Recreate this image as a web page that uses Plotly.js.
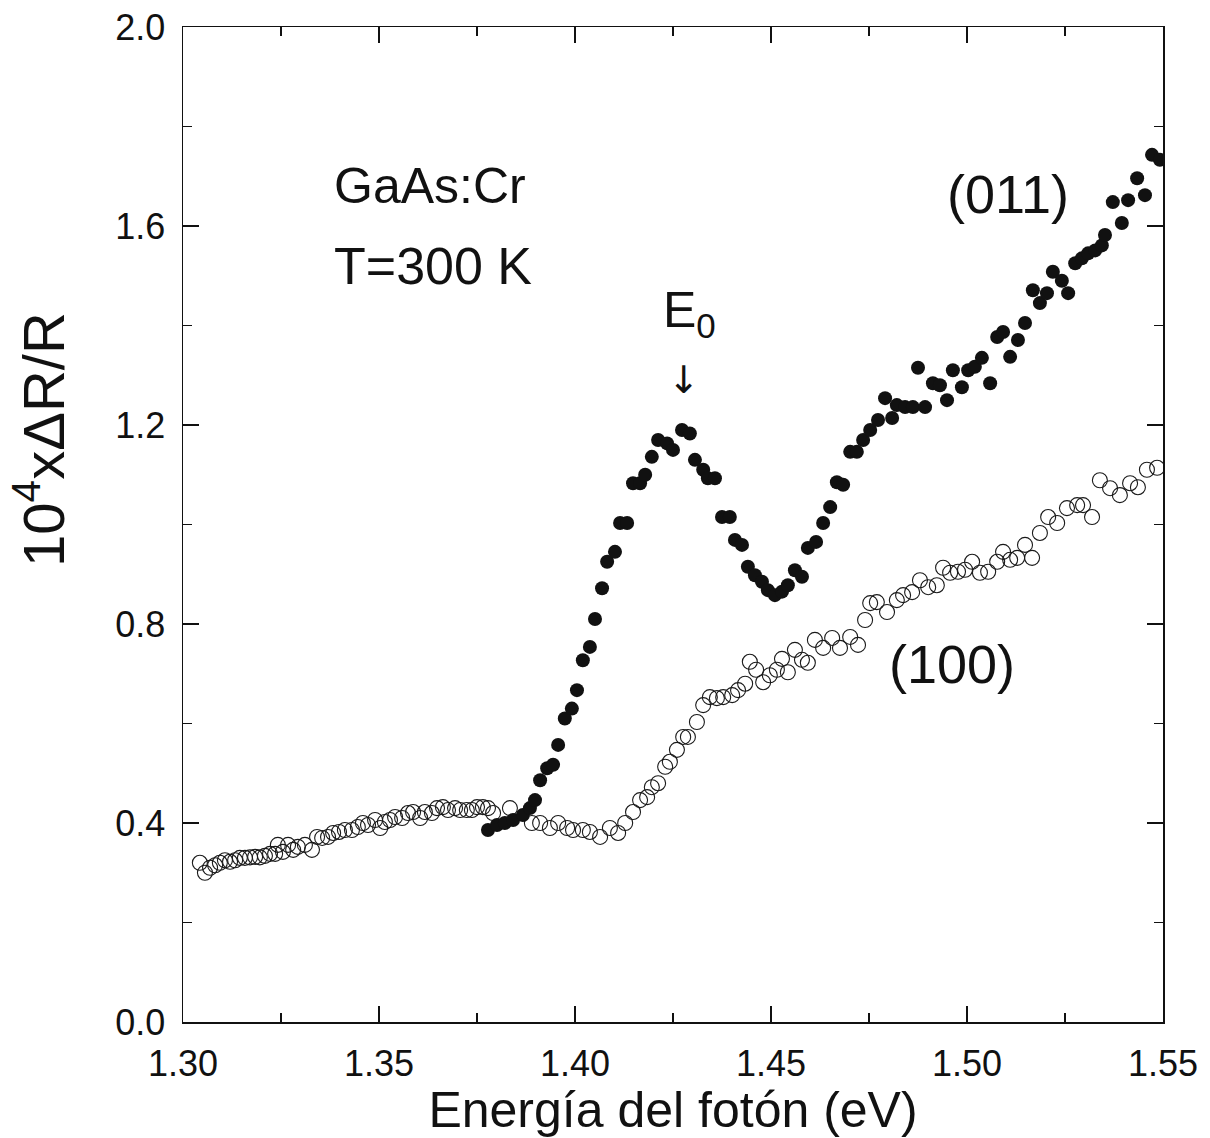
<!DOCTYPE html>
<html>
<head>
<meta charset="utf-8">
<script src="https://cdn.plot.ly/plotly-3.0.1.min.js"></script>
<style>
  html, body { margin: 0; padding: 0; background: #fff; }
  #chart { width: 1210px; height: 1138px; }
</style>
</head>
<body>
<div id="chart"></div>
<script>
// (100) orientation, open circles
const energy100 = [
  1.3043, 1.3056, 1.3069, 1.3082, 1.3094, 1.3107, 1.3120, 1.3133, 1.3145, 1.3158,
  1.3171, 1.3184, 1.3196, 1.3209, 1.3222, 1.3235, 1.3242, 1.3255, 1.3268, 1.3281,
  1.3293, 1.3311, 1.3329, 1.3342, 1.3355, 1.3370, 1.3383, 1.3398, 1.3413, 1.3431,
  1.3446, 1.3459, 1.3472, 1.3490, 1.3503, 1.3515, 1.3528, 1.3541, 1.3559, 1.3574,
  1.3587, 1.3605, 1.3617, 1.3635, 1.3648, 1.3663, 1.3676, 1.3694, 1.3707, 1.3724,
  1.3737, 1.3750, 1.3765, 1.3778, 1.3791, 1.3834, 1.3890, 1.3911, 1.3936, 1.3957,
  1.3980, 1.3995, 1.4020, 1.4038, 1.4064, 1.4089, 1.4110, 1.4128, 1.4148, 1.4166,
  1.4184, 1.4196, 1.4212, 1.4230, 1.4242, 1.4260, 1.4276, 1.4288, 1.4311, 1.4327,
  1.4344, 1.4362, 1.4378, 1.4401, 1.4416, 1.4434, 1.4446, 1.4462, 1.4480, 1.4497,
  1.4515, 1.4528, 1.4543, 1.4561, 1.4579, 1.4594, 1.4612, 1.4633, 1.4656, 1.4676,
  1.4702, 1.4722, 1.4740, 1.4753, 1.4770, 1.4796, 1.4821, 1.4837, 1.4860, 1.4880,
  1.4901, 1.4923, 1.4939, 1.4957, 1.4977, 1.4995, 1.5013, 1.5033, 1.5054, 1.5077,
  1.5092, 1.5110, 1.5128, 1.5148, 1.5166, 1.5186, 1.5207, 1.5230, 1.5255, 1.5281,
  1.5296, 1.5319, 1.5339, 1.5365, 1.5390, 1.5416, 1.5436, 1.5459, 1.5485
];
const dr100 = [
  0.320, 0.300, 0.310, 0.315, 0.320, 0.325, 0.322, 0.325, 0.330, 0.330,
  0.331, 0.332, 0.331, 0.334, 0.338, 0.338, 0.356, 0.342, 0.356, 0.346,
  0.352, 0.356, 0.346, 0.372, 0.370, 0.372, 0.380, 0.382, 0.386, 0.386,
  0.392, 0.400, 0.396, 0.406, 0.390, 0.402, 0.406, 0.412, 0.410, 0.420,
  0.422, 0.410, 0.422, 0.420, 0.430, 0.432, 0.426, 0.430, 0.426, 0.426,
  0.426, 0.432, 0.432, 0.430, 0.420, 0.430, 0.400, 0.400, 0.390, 0.400,
  0.390, 0.386, 0.386, 0.382, 0.372, 0.390, 0.380, 0.400, 0.422, 0.446,
  0.452, 0.472, 0.480, 0.513, 0.523, 0.547, 0.573, 0.573, 0.603, 0.637,
  0.653, 0.651, 0.653, 0.657, 0.667, 0.680, 0.724, 0.708, 0.683, 0.697,
  0.708, 0.730, 0.703, 0.748, 0.728, 0.722, 0.768, 0.752, 0.772, 0.752,
  0.774, 0.758, 0.808, 0.842, 0.844, 0.824, 0.848, 0.858, 0.864, 0.888,
  0.874, 0.878, 0.913, 0.903, 0.905, 0.909, 0.925, 0.903, 0.905, 0.925,
  0.945, 0.929, 0.933, 0.959, 0.933, 0.983, 1.015, 1.003, 1.033, 1.039,
  1.039, 1.015, 1.089, 1.073, 1.059, 1.083, 1.075, 1.110, 1.114
];

// (011) orientation, filled circles
const energy011 = [
  1.3778, 1.3801, 1.3821, 1.3842, 1.3867, 1.3885, 1.3898, 1.3911, 1.3929, 1.3944,
  1.3957, 1.3974, 1.3992, 1.4005, 1.4020, 1.4038, 1.4051, 1.4069, 1.4082, 1.4102,
  1.4115, 1.4133, 1.4148, 1.4166, 1.4179, 1.4196, 1.4212, 1.4235, 1.4250, 1.4273,
  1.4293, 1.4306, 1.4327, 1.4339, 1.4357, 1.4375, 1.4395, 1.4408, 1.4426, 1.4441,
  1.4459, 1.4477, 1.4492, 1.4510, 1.4528, 1.4543, 1.4561, 1.4579, 1.4594, 1.4615,
  1.4633, 1.4651, 1.4668, 1.4684, 1.4702, 1.4719, 1.4735, 1.4753, 1.4773, 1.4791,
  1.4809, 1.4821, 1.4842, 1.4862, 1.4875, 1.4893, 1.4913, 1.4931, 1.4949, 1.4964,
  1.4987, 1.5003, 1.5020, 1.5038, 1.5059, 1.5077, 1.5092, 1.5110, 1.5130, 1.5148,
  1.5168, 1.5186, 1.5204, 1.5219, 1.5242, 1.5258, 1.5276, 1.5293, 1.5309, 1.5327,
  1.5344, 1.5352, 1.5372, 1.5395, 1.5411, 1.5434, 1.5454, 1.5472, 1.5492
];
const dr011 = [
  0.386, 0.396, 0.400, 0.406, 0.416, 0.430, 0.446, 0.486, 0.510, 0.517,
  0.557, 0.610, 0.630, 0.667, 0.727, 0.754, 0.810, 0.872, 0.925, 0.945,
  1.003, 1.003, 1.083, 1.083, 1.100, 1.136, 1.170, 1.163, 1.150, 1.190,
  1.183, 1.130, 1.110, 1.093, 1.093, 1.015, 1.015, 0.969, 0.959, 0.915,
  0.898, 0.885, 0.868, 0.858, 0.865, 0.878, 0.908, 0.895, 0.953, 0.965,
  1.003, 1.035, 1.085, 1.080, 1.146, 1.146, 1.170, 1.190, 1.210, 1.254,
  1.214, 1.240, 1.236, 1.236, 1.315, 1.236, 1.284, 1.280, 1.250, 1.310,
  1.276, 1.310, 1.317, 1.335, 1.284, 1.377, 1.387, 1.337, 1.371, 1.405,
  1.471, 1.445, 1.465, 1.508, 1.490, 1.465, 1.525, 1.535, 1.545, 1.551,
  1.561, 1.582, 1.648, 1.606, 1.652, 1.696, 1.662, 1.743, 1.733
];

const xTickVals = [1.30, 1.35, 1.40, 1.45, 1.50, 1.55];
const xTickText = ["1.30", "1.35", "1.40", "1.45", "1.50", "1.55"];
const yTickVals = [0.0, 0.4, 0.8, 1.2, 1.6, 2.0];
const yTickText = ["0.0", "0.4", "0.8", "1.2", "1.6", "2.0"];

const FONT = "Liberation Sans, Arial, Helvetica, sans-serif";

const traces = [
  {
    x: energy100, y: dr100, type: "scatter", mode: "markers", name: "(100)",
    marker: { symbol: "circle-open", size: 15, color: "#1a1a1a", line: { width: 1.1, color: "#1a1a1a" } }
  },
  {
    x: energy011, y: dr011, type: "scatter", mode: "markers", name: "(011)",
    marker: { symbol: "circle", size: 14, color: "#111111", line: { width: 0 } }
  }
];

const layout = {
  width: 1210, height: 1138,
  margin: { l: 183, r: 47, t: 27, b: 116, pad: 0 },
  paper_bgcolor: "#ffffff", plot_bgcolor: "#ffffff",
  showlegend: false,
  font: { family: FONT, color: "#111" },
  xaxis: {
    range: [1.30, 1.55], showgrid: false, zeroline: false,
    showline: true, linecolor: "#111", linewidth: 1.5, mirror: "ticks",
    ticks: "inside", ticklen: 16, tickwidth: 1.3, tickcolor: "#111",
    tickvals: xTickVals, ticktext: xTickText,
    tickfont: { family: FONT, size: 36, color: "#111" },
    ticklabelstandoff: 9,
    minor: { dtick: 0.025, tick0: 1.30, ticks: "inside", ticklen: 9, tickwidth: 1.2, tickcolor: "#111" },
    title: { text: "Energía del fotón (eV)", font: { family: FONT, size: 50, color: "#111" }, standoff: 8 }
  },
  yaxis: {
    range: [0, 2.0], showgrid: false, zeroline: false,
    showline: true, linecolor: "#111", linewidth: 1.5, mirror: "ticks",
    ticks: "inside", ticklen: 16, tickwidth: 1.3, tickcolor: "#111",
    tickvals: yTickVals, ticktext: yTickText,
    tickfont: { family: FONT, size: 36, color: "#111" },
    ticklabelstandoff: 9,
    minor: { dtick: 0.2, tick0: 0, ticks: "inside", ticklen: 9, tickwidth: 1.2, tickcolor: "#111" }
  },
  annotations: [
    { text: "10<sup>4</sup>xΔR/R", xref: "paper", yref: "y", x: 0, y: 1.17, xanchor: "center", yanchor: "middle",
      xshift: -143, textangle: -90, showarrow: false, font: { family: FONT, size: 58, color: "#111" } },
    { text: "GaAs:Cr", xref: "x", yref: "y", x: 1.338, y: 1.68, xanchor: "left", yanchor: "middle",
      showarrow: false, font: { family: FONT, size: 50, color: "#111" } },
    { text: "T=300 K", xref: "x", yref: "y", x: 1.338, y: 1.52, xanchor: "left", yanchor: "middle",
      showarrow: false, font: { family: FONT, size: 52, color: "#111" } },
    { text: "(011)", xref: "x", yref: "y", x: 1.5105, y: 1.665, xanchor: "center", yanchor: "middle",
      showarrow: false, font: { family: FONT, size: 54, color: "#111" } },
    { text: "(100)", xref: "x", yref: "y", x: 1.4962, y: 0.72, xanchor: "center", yanchor: "middle",
      showarrow: false, font: { family: FONT, size: 54, color: "#111" } },
    { text: "E<sub>0</sub>", xref: "x", yref: "y", x: 1.4293, y: 1.425, xanchor: "center", yanchor: "middle",
      showarrow: false, font: { family: FONT, size: 50, color: "#111" } },
    { text: "↓", xref: "x", yref: "y", x: 1.4277, y: 1.29, xanchor: "center", yanchor: "middle",
      showarrow: false, font: { family: "DejaVu Sans", size: 38, color: "#111" } }
  ]
};

Plotly.newPlot("chart", traces, layout, { staticPlot: true, displayModeBar: false });
</script>
</body>
</html>
